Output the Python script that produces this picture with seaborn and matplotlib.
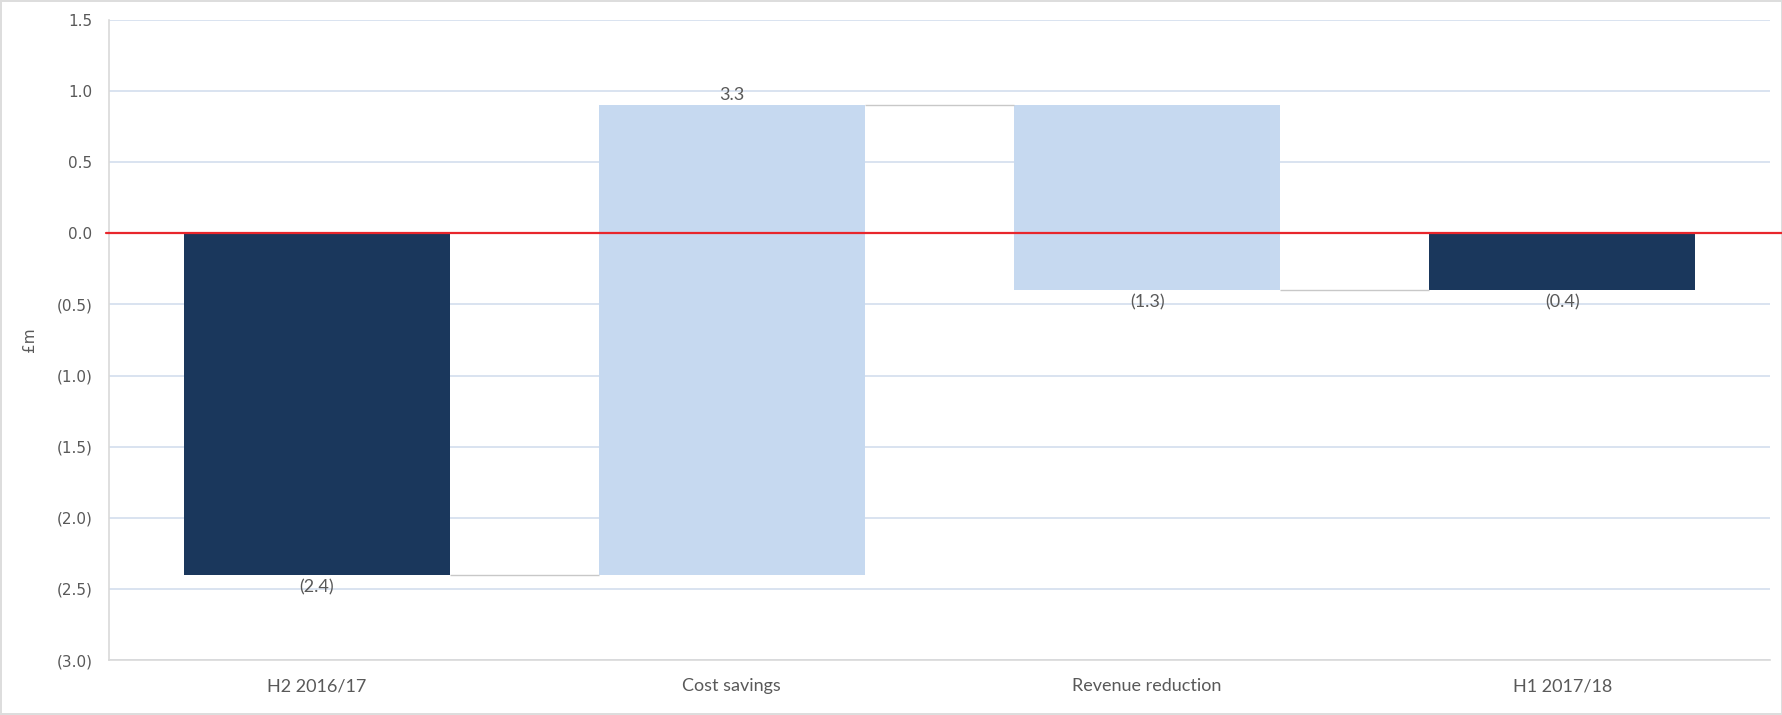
import matplotlib
matplotlib.use("Agg")
import matplotlib.pyplot as plt
import seaborn as sns
import pandas as pd
import numpy as np

categories = ["H2 2016/17", "Cost savings", "Revenue reduction", "H1 2017/18"]
changes = [-2.4, 3.3, -1.3, -0.4]
is_total = [True, False, False, True]
data_labels = ["(2.4)", "3.3", "(1.3)", "(0.4)"]
y_ticks = [1.5, 1.0, 0.5, 0.0, -0.5, -1.0, -1.5, -2.0, -2.5, -3.0]
y_tick_labels = ["1.5", "1.0", "0.5", "0.0", "(0.5)", "(1.0)", "(1.5)", "(2.0)", "(2.5)", "(3.0)"]

dark = "#1a375c"
light = "#c6d9f0"

# waterfall geometry derived from the data
bottoms, heights = [], []
running = 0.0
for ch, tot in zip(changes, is_total):
    if tot:
        bottoms.append(0.0)
        heights.append(ch)
        running = ch
    else:
        bottoms.append(running)
        heights.append(ch)
        running = running + ch
df = pd.DataFrame({"category": categories, "height": heights, "bottom": bottoms})
colors = [dark if t else light for t in is_total]

sns.set_style("white")
plt.rcParams["font.family"] = ["DejaVu Sans"]

fig = plt.figure(figsize=(17.83, 7.15), dpi=100)
fig.patch.set_edgecolor("#dddddd")
fig.patch.set_linewidth(1.5)
ax = fig.add_axes([109 / 1783, 1 - 660 / 715, (1770 - 109) / 1783, (660 - 20) / 715])

ax.set_ylim(-3.0, 1.5)
ax.set_yticks(y_ticks)
ax.yaxis.grid(True, color="#d3deee", linewidth=1.2)
ax.set_axisbelow(True)

width = 0.64
sns.barplot(data=df, x="category", y="height", bottom=df["bottom"].values,
            color=light, width=width, errorbar=None, ax=ax, zorder=2,
            linewidth=0)
for p, c in zip(ax.patches, colors):
    p.set_facecolor(c)

# connectors
for i in range(len(categories) - 1):
    level = bottoms[i] + heights[i]
    ax.plot([i + width / 2, i + 1 - width / 2], [level, level],
            color="#c8c8c8", lw=1.0, zorder=2, solid_capstyle="butt")

ax.axhline(0, color="#e8262c", lw=1.6, zorder=3, xmin=-0.002, xmax=1.01, clip_on=False)

# data labels
for i, (b, h, lab) in enumerate(zip(bottoms, heights, data_labels)):
    top = b + h
    if h >= 0:
        ax.annotate(lab, (i, top), xytext=(0, 2), textcoords="offset points",
                    ha="center", va="bottom", fontsize=13, color="#595959",
                    family=["Lato", "DejaVu Sans"])
    else:
        ax.annotate(lab, (i, top), xytext=(0, -3), textcoords="offset points",
                    ha="center", va="top", fontsize=13, color="#595959",
                    family=["Lato", "DejaVu Sans"])

ax.set_xlim(-0.5, len(categories) - 0.5)
ax.set_yticklabels(y_tick_labels, fontsize=11, color="#595959")
ax.set_xticks(range(len(categories)))
ax.set_xticklabels(categories, fontsize=13, color="#595959", family=["Lato", "DejaVu Sans"])
ax.tick_params(axis="both", length=0)
ax.tick_params(axis="y", pad=12)
ax.tick_params(axis="x", pad=13)
ax.set_xlabel("")
ax.set_ylabel("£m", fontsize=11, color="#595959", labelpad=14)

for s in ["top", "right"]:
    ax.spines[s].set_visible(False)
ax.spines["left"].set_color("#d9d9d9")
ax.spines["bottom"].set_color("#d9d9d9")
ax.spines["left"].set_linewidth(1.2)
ax.spines["bottom"].set_linewidth(1.2)

fig.savefig("out.png", dpi=100, edgecolor=fig.get_edgecolor())
